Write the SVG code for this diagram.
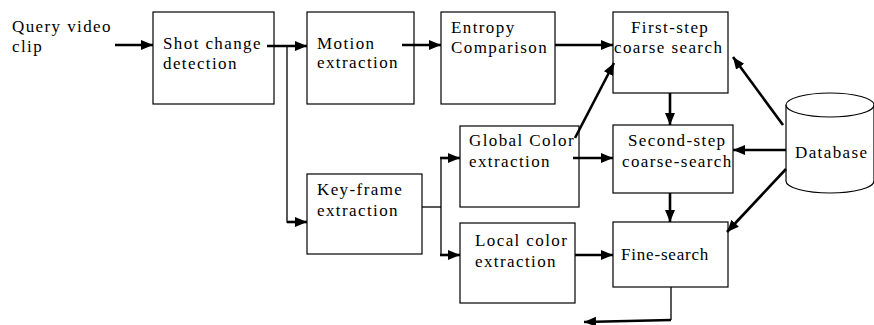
<svg xmlns="http://www.w3.org/2000/svg" width="874" height="325" viewBox="0 0 874 325">
<style>
.box{fill:#fff;stroke:#000;stroke-width:1.2}
text{font-family:"Liberation Serif","Times New Roman",serif;font-size:17px;letter-spacing:1.4px;fill:#000}
.thick{stroke:#000;stroke-width:2.6;fill:none}
.thin{stroke:#000;stroke-width:1.3;fill:none}
</style>
<defs>
<marker id="ah" markerUnits="userSpaceOnUse" markerWidth="14" markerHeight="12" refX="12" refY="5" orient="auto">
<path d="M0,0 L12,5 L0,10 Z" fill="#000"/>
</marker>
</defs>
<g id="query-label"><text x="12" y="32">Query video</text><text x="12" y="52">clip</text></g>
<g id="shot-change"><rect class="box" x="153" y="12" width="121" height="92"/><text x="163" y="49">Shot change</text><text x="163" y="69">detection</text></g>
<g id="motion"><rect class="box" x="307" y="12" width="107" height="92"/><text x="317" y="49">Motion</text><text x="317" y="68">extraction</text></g>
<g id="entropy"><rect class="box" x="441" y="12" width="114" height="92"/><text x="451" y="33">Entropy</text><text x="451" y="53">Comparison</text></g>
<g id="first-step"><rect class="box" x="613" y="12" width="115" height="81"/><text x="631" y="33">First-step</text><text x="614" y="53">coarse search</text></g>
<g id="key-frame"><rect class="box" x="307" y="174" width="115" height="80"/><text x="317" y="195">Key-frame</text><text x="317" y="216">extraction</text></g>
<g id="global-color"><rect class="box" x="460" y="126" width="119" height="81"/><text x="469" y="146">Global Color</text><text x="469" y="167">extraction</text></g>
<g id="local-color"><rect class="box" x="460" y="223" width="115" height="80"/><text x="475" y="246">Local color</text><text x="475" y="267">extraction</text></g>
<g id="second-step"><rect class="box" x="613" y="125" width="120" height="68"/><text x="628" y="146">Second-step</text><text x="622" y="167">coarse-search</text></g>
<g id="fine-search"><rect class="box" x="613" y="222" width="115" height="65"/><text x="621" y="260" style="letter-spacing:0.8px">Fine-search</text></g>
<g id="database">
<path d="M786,105 L786,181 A44,12 0 0 0 874,181 L874,105" fill="#fff" stroke="#000" stroke-width="1.2"/>
<ellipse cx="830" cy="105" rx="44" ry="12" fill="#fff" stroke="#000" stroke-width="1.2"/>
<text x="795" y="158">Database</text>
</g>
<g id="connectors">
<line class="thick" x1="115" y1="45" x2="153" y2="45" marker-end="url(#ah)"/>
<line class="thick" x1="267" y1="46" x2="307" y2="46" marker-end="url(#ah)"/>
<polyline class="thin" points="287,46 287,222 296,222"/>
<line class="thick" x1="287" y1="222" x2="307" y2="222" marker-end="url(#ah)"/>
<line class="thick" x1="402" y1="45" x2="441" y2="45" marker-end="url(#ah)"/>
<line class="thick" x1="555" y1="45" x2="613" y2="45" marker-end="url(#ah)"/>
<polyline class="thin" points="422,207 441,207"/>
<line class="thin" x1="441" y1="158" x2="441" y2="255"/>
<line class="thick" x1="440" y1="158" x2="460" y2="158" marker-end="url(#ah)"/>
<line class="thick" x1="440" y1="255" x2="460" y2="255" marker-end="url(#ah)"/>
<line class="thick" x1="575" y1="138" x2="614" y2="63" marker-end="url(#ah)"/>
<line class="thick" x1="573" y1="158" x2="613" y2="158" marker-end="url(#ah)"/>
<line class="thick" x1="575" y1="255" x2="613" y2="255" marker-end="url(#ah)"/>
<line class="thick" x1="670" y1="93" x2="670" y2="125" marker-end="url(#ah)"/>
<line class="thick" x1="670" y1="193" x2="670" y2="222" marker-end="url(#ah)"/>
<line class="thick" x1="783" y1="125" x2="733" y2="57" marker-end="url(#ah)"/>
<line class="thick" x1="786" y1="150" x2="733" y2="150" marker-end="url(#ah)"/>
<line class="thick" x1="786" y1="169" x2="727" y2="232" marker-end="url(#ah)"/>
<polyline class="thin" points="671,287 671,320"/>
<line class="thick" x1="671" y1="320" x2="584" y2="322" marker-end="url(#ah)"/>
</g>
</svg>
